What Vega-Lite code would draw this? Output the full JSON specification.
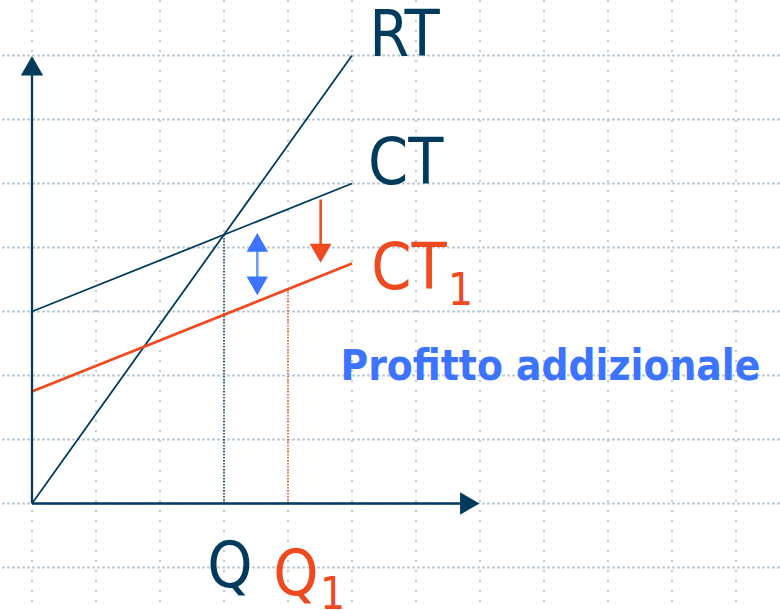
{
  "$schema": "https://vega.github.io/schema/vega-lite/v6.json",
  "width": 780,
  "height": 610,
  "autosize": {"type": "none"},
  "padding": 0,
  "background": "white",
  "config": {"view": {"stroke": null}},
  "datasets": {
    "vgrid": [{"u": 0}, {"u": 1}, {"u": 2}, {"u": 3}, {"u": 4}, {"u": 5}, {"u": 6}, {"u": 7}, {"u": 8}, {"u": 9}, {"u": 10}, {"u": 11}],
    "hgrid": [{"v": -1}, {"v": 0}, {"v": 1}, {"v": 2}, {"v": 3}, {"v": 4}, {"v": 5}, {"v": 6}, {"v": 7}],
    "curves": [
      {"series": "RT", "u": 0, "v": 0}, {"series": "RT", "u": 5, "v": 7},
      {"series": "CT", "u": 0, "v": 3}, {"series": "CT", "u": 5, "v": 5},
      {"series": "CT1", "u": 0, "v": 1.75}, {"series": "CT1", "u": 5, "v": 3.75}
    ],
    "axes": [
      {"u": 0, "v": 0, "u2": 0, "v2": 6.8},
      {"u": 0, "v": 0, "u2": 6.75, "v2": 0}
    ]
  },
  "encoding": {
    "x": {"type": "quantitative", "scale": {"domain": [-0.5, 11.6875], "nice": false, "zero": false}, "axis": null},
    "y": {"type": "quantitative", "scale": {"domain": [-1.6641, 7.8672], "nice": false, "zero": false}, "axis": null}
  },
  "layer": [
    {
      "data": {"name": "vgrid"},
      "mark": {"type": "rule", "color": "#bccbd6", "strokeWidth": 2, "strokeDash": [2, 8]},
      "encoding": {"x": {"field": "u", "type": "quantitative"}}
    },
    {
      "data": {"name": "hgrid"},
      "mark": {"type": "rule", "color": "#bccbd6", "strokeWidth": 1.8, "strokeDash": [3, 2]},
      "encoding": {"y": {"field": "v", "type": "quantitative"}}
    },
    {
      "data": {"values": [{"u": 3, "v": 0, "v2": 4.2}]},
      "mark": {"type": "rule", "color": "#003a5c", "strokeWidth": 1.5, "strokeDash": [1.5, 1.5]},
      "encoding": {"x": {"field": "u", "type": "quantitative"}, "y": {"field": "v", "type": "quantitative"}, "y2": {"field": "v2"}}
    },
    {
      "data": {"values": [{"u": 4, "v": 0, "v2": 3.35}]},
      "mark": {"type": "rule", "color": "#ef4a1f", "strokeWidth": 1.5, "strokeDash": [1.5, 1.5]},
      "encoding": {"x": {"field": "u", "type": "quantitative"}, "y": {"field": "v", "type": "quantitative"}, "y2": {"field": "v2"}}
    },
    {
      "data": {"name": "curves"},
      "transform": [{"filter": "datum.series !== 'CT1'"}],
      "mark": {"type": "line", "color": "#003a5c", "strokeWidth": 1.8},
      "encoding": {"x": {"field": "u", "type": "quantitative"}, "y": {"field": "v", "type": "quantitative"}, "detail": {"field": "series"}}
    },
    {
      "data": {"name": "curves"},
      "transform": [{"filter": "datum.series === 'CT1'"}],
      "mark": {"type": "line", "color": "#ef4a1f", "strokeWidth": 2.8},
      "encoding": {"x": {"field": "u", "type": "quantitative"}, "y": {"field": "v", "type": "quantitative"}}
    },
    {
      "data": {"name": "axes"},
      "mark": {"type": "rule", "color": "#003a5c", "strokeWidth": 2.3},
      "encoding": {"x": {"field": "u", "type": "quantitative"}, "y": {"field": "v", "type": "quantitative"}, "x2": {"field": "u2"}, "y2": {"field": "v2"}}
    },
    {
      "data": {"values": [{"u": 0, "v": 6.84}]},
      "mark": {"type": "point", "filled": true, "shape": "triangle-up", "color": "#003a5c", "size": 500, "opacity": 1},
      "encoding": {"x": {"field": "u", "type": "quantitative"}, "y": {"field": "v", "type": "quantitative"}}
    },
    {
      "data": {"values": [{"u": 6.84, "v": 0}]},
      "mark": {"type": "point", "filled": true, "shape": "triangle-right", "color": "#003a5c", "size": 500, "opacity": 1},
      "encoding": {"x": {"field": "u", "type": "quantitative"}, "y": {"field": "v", "type": "quantitative"}}
    },
    {
      "data": {"values": [{"u": 3.52, "v": 3.95, "v2": 3.53}]},
      "mark": {"type": "rule", "color": "#6c98ff", "strokeWidth": 2.5},
      "encoding": {"x": {"field": "u", "type": "quantitative"}, "y": {"field": "v", "type": "quantitative"}, "y2": {"field": "v2"}}
    },
    {
      "data": {"values": [{"u": 3.52, "v": 4.08}]},
      "mark": {"type": "point", "filled": true, "shape": "triangle-up", "color": "#3c74ff", "size": 460, "opacity": 1},
      "encoding": {"x": {"field": "u", "type": "quantitative"}, "y": {"field": "v", "type": "quantitative"}}
    },
    {
      "data": {"values": [{"u": 3.52, "v": 3.40}]},
      "mark": {"type": "point", "filled": true, "shape": "triangle-down", "color": "#3c74ff", "size": 460, "opacity": 1},
      "encoding": {"x": {"field": "u", "type": "quantitative"}, "y": {"field": "v", "type": "quantitative"}}
    },
    {
      "data": {"values": [{"u": 4.51, "v": 4.75, "v2": 4.02}]},
      "mark": {"type": "rule", "color": "#ef4a1f", "strokeWidth": 2.5},
      "encoding": {"x": {"field": "u", "type": "quantitative"}, "y": {"field": "v", "type": "quantitative"}, "y2": {"field": "v2"}}
    },
    {
      "data": {"values": [{"u": 4.51, "v": 3.91}]},
      "mark": {"type": "point", "filled": true, "shape": "triangle-down", "color": "#ef4a1f", "size": 480, "opacity": 1},
      "encoding": {"x": {"field": "u", "type": "quantitative"}, "y": {"field": "v", "type": "quantitative"}}
    },
    {
      "data": {"values": [{"label": "RT", "u": 5.27, "v": 7.0}, {"label": "CT", "u": 5.25, "v": 4.99}, {"label": "Q", "u": 2.74, "v": -1.3}]},
      "mark": {"type": "text", "font": "DejaVu Sans Condensed, Noto Sans, sans-serif", "fontSize": 64, "color": "#003a5c", "align": "left", "baseline": "alphabetic"},
      "encoding": {"x": {"field": "u", "type": "quantitative"}, "y": {"field": "v", "type": "quantitative"}, "text": {"field": "label"}}
    },
    {
      "data": {"values": [{"label": "CT", "u": 5.3, "v": 3.35}, {"label": "Q", "u": 3.77, "v": -1.43}]},
      "mark": {"type": "text", "font": "DejaVu Sans Condensed, Noto Sans, sans-serif", "fontSize": 64, "color": "#ef4a1f", "align": "left", "baseline": "alphabetic"},
      "encoding": {"x": {"field": "u", "type": "quantitative"}, "y": {"field": "v", "type": "quantitative"}, "text": {"field": "label"}}
    },
    {
      "data": {"values": [{"label": "1", "u": 6.5, "v": 3.1}, {"label": "1", "u": 4.5, "v": -1.65}]},
      "mark": {"type": "text", "font": "DejaVu Sans Condensed, Noto Sans, sans-serif", "fontSize": 44, "color": "#ef4a1f", "align": "left", "baseline": "alphabetic"},
      "encoding": {"x": {"field": "u", "type": "quantitative"}, "y": {"field": "v", "type": "quantitative"}, "text": {"field": "label"}}
    },
    {
      "data": {"values": [{"label": "Profitto addizionale", "u": 4.82, "v": 1.93}]},
      "mark": {"type": "text", "font": "DejaVu Sans Condensed, Noto Sans, sans-serif", "fontSize": 42, "fontWeight": "bold", "color": "#3c74ff", "align": "left", "baseline": "alphabetic"},
      "encoding": {"x": {"field": "u", "type": "quantitative"}, "y": {"field": "v", "type": "quantitative"}, "text": {"field": "label"}}
    }
  ]
}
